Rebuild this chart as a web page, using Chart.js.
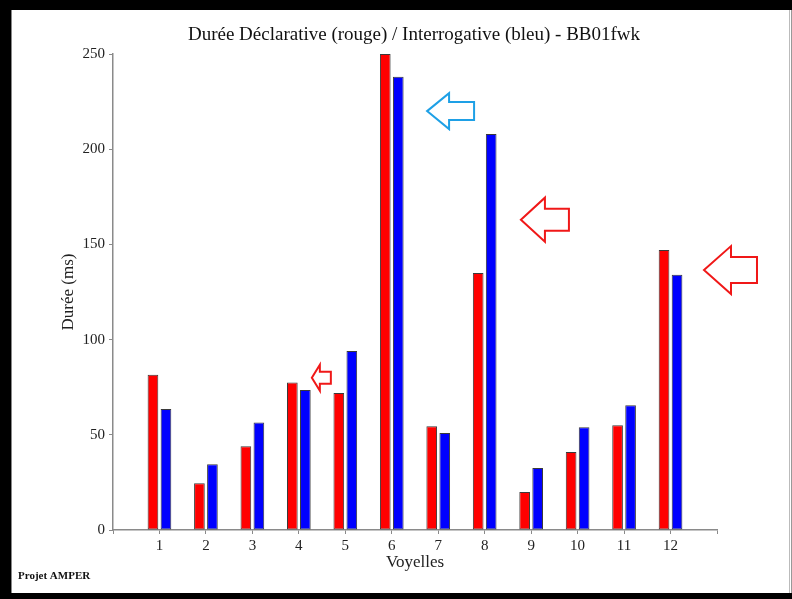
<!DOCTYPE html>
<html>
<head>
<meta charset="utf-8">
<title>Durée Déclarative / Interrogative - BB01fwk</title>
<script src="https://cdn.jsdelivr.net/npm/chart.js@4/dist/chart.umd.min.js"></script>
<style>
  html, body { margin: 0; padding: 0; background: #000; }
  body { width: 792px; height: 599px; position: relative; overflow: hidden; }
  #sheet {
    position: absolute; left: 11px; top: 10px; width: 781px; height: 583px;
    background: #fff; border-left: 1px solid #888; box-sizing: border-box;
  }
  #edge {
    position: absolute; left: 777px; top: 0; width: 3px; height: 583px;
    border-left: 1px solid #bbb; border-right: 1px solid #999; box-sizing: border-box;
  }
  canvas { position: absolute; left: 0; top: 0; }
</style>
</head>
<body>
<div id="sheet">
  <canvas id="chart" width="777" height="583"></canvas>
  <div id="edge"></div>
</div>
<script>
// Vowel indices along the x axis
const voyelles = ['1', '2', '3', '4', '5', '6', '7', '8', '9', '10', '11', '12'];
// Durations in ms: declarative (red) and interrogative (blue)
const dureeDeclarative = [81.5, 24.5, 44, 77.5, 72, 250, 54.5, 135, 20, 41, 55, 147];
const dureeInterrogative = [63.5, 34.5, 56.5, 73.5, 94, 238, 51, 208, 32.5, 54, 65.5, 134];
// Y-axis tick values
const yTicks = [0, 50, 100, 150, 200, 250];

// The axis runs from 0 to 13, so pad the categories with an empty slot on each side
const labels = [''].concat(voyelles, ['']);
const pad = arr => [null].concat(arr, [null]);

// Hollow left-pointing arrows highlighting some vowels (tip in data units, size in px)
const arrows = [
  { x: 6.76, y: 220, len: 47, head: 22, headHalf: 18, shaftHalf: 9, color: '#1ea0e6' },
  { x: 8.78, y: 163, len: 48, head: 24, headHalf: 22, shaftHalf: 11, color: '#f01818' },
  { x: 12.72, y: 136.5, len: 53, head: 27, headHalf: 24, shaftHalf: 13, color: '#f01818' },
  { x: 4.28, y: 80, len: 19, head: 8, headHalf: 13, shaftHalf: 6, color: '#f01818' }
];

const serif = '"Liberation Serif", "DejaVu Serif", serif';

const decorations = {
  id: 'decorations',
  afterDatasetsDraw(chart) {
    const { ctx, chartArea, scales } = chart;
    ctx.save();
    // arrows
    ctx.lineWidth = 2;
    ctx.lineJoin = 'miter';
    arrows.forEach(a => {
      const tx = scales.x.getPixelForValue(a.x);
      const ty = scales.y.getPixelForValue(a.y);
      ctx.strokeStyle = a.color;
      ctx.beginPath();
      ctx.moveTo(tx, ty);
      ctx.lineTo(tx + a.head, ty - a.headHalf);
      ctx.lineTo(tx + a.head, ty - a.shaftHalf);
      ctx.lineTo(tx + a.len, ty - a.shaftHalf);
      ctx.lineTo(tx + a.len, ty + a.shaftHalf);
      ctx.lineTo(tx + a.head, ty + a.shaftHalf);
      ctx.lineTo(tx + a.head, ty + a.headHalf);
      ctx.closePath();
      ctx.stroke();
    });
    // title
    ctx.fillStyle = '#111';
    ctx.textAlign = 'center';
    ctx.textBaseline = 'middle';
    ctx.font = '19px ' + serif;
    ctx.fillText('Durée Déclarative (rouge) / Interrogative (bleu) - BB01fwk',
      (chartArea.left + chartArea.right) / 2 - 1, 25);
    // footer
    ctx.textAlign = 'left';
    ctx.font = 'bold 11px ' + serif;
    ctx.fillText('Projet AMPER', 6, 566);
    ctx.restore();
  }
};

new Chart(document.getElementById('chart'), {
  type: 'bar',
  data: {
    labels: labels,
    datasets: [
      {
        label: 'Déclarative',
        data: pad(dureeDeclarative),
        backgroundColor: '#ff0000',
        borderColor: '#3a3a3a',
        borderWidth: 1,
        borderSkipped: false
      },
      {
        label: 'Interrogative',
        data: pad(dureeInterrogative),
        backgroundColor: '#0000ff',
        borderColor: '#3a3a3a',
        borderWidth: 1,
        borderSkipped: false
      }
    ]
  },
  options: {
    responsive: false,
    devicePixelRatio: 1,
    animation: false,
    categoryPercentage: 0.56,
    barPercentage: 0.82,
    layout: { padding: { top: 44, right: 72, left: 0, bottom: 0 } },
    plugins: {
      legend: { display: false },
      title: { display: false },
      tooltip: { enabled: false }
    },
    scales: {
      x: {
        type: 'category',
        offset: false,
        grid: { offset: false, drawOnChartArea: false, tickLength: 4, color: '#8a8a8a' },
        border: { color: '#8a8a8a', width: 1.5 },
        ticks: {
          autoSkip: false, maxRotation: 0, padding: 3,
          color: '#222', font: { family: serif, size: 15 }
        },
        title: {
          display: true, text: 'Voyelles', color: '#222',
          font: { family: serif, size: 17 }, padding: { top: 0, bottom: 20 }
        },
        afterFit(scale) { scale.height = 63; }
      },
      y: {
        min: 0,
        max: 250,
        afterBuildTicks(scale) { scale.ticks = yTicks.map(v => ({ value: v })); },
        grid: { drawOnChartArea: false, tickLength: 4, color: '#8a8a8a' },
        border: { color: '#8a8a8a', width: 1.5 },
        ticks: { padding: 4, color: '#222', font: { family: serif, size: 15 } },
        title: {
          display: true, text: 'Durée (ms)', color: '#222',
          font: { family: serif, size: 17 }, padding: { top: 46, bottom: 0 }
        },
        afterFit(scale) { scale.width = 101; }
      }
    }
  },
  plugins: [decorations]
});
</script>
</body>
</html>
